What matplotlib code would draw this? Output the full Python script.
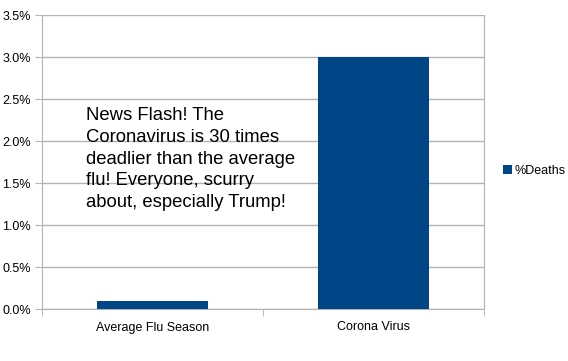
import matplotlib
matplotlib.use('Agg')
import matplotlib.pyplot as plt
from matplotlib.ticker import PercentFormatter

categories = ['Average Flu Season', 'Corona Virus']
deaths_pct = [0.1, 3.0]
series_name = '%Deaths'
yticks = [0.0, 0.5, 1.0, 1.5, 2.0, 2.5, 3.0, 3.5]
note = ('News Flash! The\nCoronavirus is 30 times\ndeadlier than the average\n'
        'flu! Everyone, scurry\nabout, especially Trump!')

plt.rcParams['font.family'] = ['Liberation Sans', 'DejaVu Sans']

fig = plt.figure(figsize=(5.68, 3.61), dpi=100)
ax = fig.add_axes([42 / 568, 1 - 309 / 361, 442 / 568, 294 / 361])

x = list(range(len(categories)))
ax.bar(x, deaths_pct, width=0.5, color='#004586', label=series_name, zorder=3)

ax.set_xlim(-0.5, len(categories) - 0.5)
ax.set_ylim(0, 3.5)
ax.set_yticks(yticks)
ax.yaxis.set_major_formatter(PercentFormatter(decimals=1))
ax.set_xticks(x)
ax.set_xticklabels(categories)
ax.set_xticks([-0.5, 0.5, 1.5], minor=True)
ax.tick_params(axis='x', which='major', length=0, pad=9, labelsize=9)
ax.tick_params(axis='x', which='minor', length=5, color='#b3b3b3', direction='out')
ax.tick_params(axis='y', length=5, color='#b3b3b3', labelsize=9, pad=3)

ax.grid(axis='y', color='#b3b3b3', linewidth=1, zorder=0)
for s in ax.spines.values():
    s.set_color('#b3b3b3')
ax.spines['top'].set_visible(False)

# baseline of the last line sits near y=207 px from the top
ax.text(86, 361 - 207, note, transform=None, fontsize=13.3, va='baseline', ha='left',
        linespacing=1.36, zorder=4)

fig.legend(loc='center left', bbox_to_anchor=(492 / 568, 1 - 171 / 361),
           frameon=False, fontsize=9, handlelength=0.7, handleheight=0.7,
           handletextpad=0.2)

fig.savefig('out.png', dpi=100)
